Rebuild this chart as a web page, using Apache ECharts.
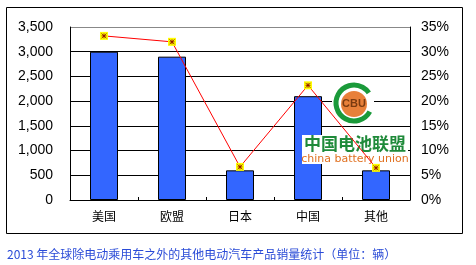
<!DOCTYPE html>
<html><head><meta charset="utf-8">
<script src="https://cdn.jsdelivr.net/npm/echarts@6/dist/echarts.min.js"></script>
<style>html,body{margin:0;padding:0;background:#fff}#c{width:476px;height:265px}</style>
</head><body><div id="c"></div>
<script>
var categories = ['美国', '欧盟', '日本', '中国', '其他'];
var sales = [3000, 2900, 600, 2100, 600];
var share = [33.2, 32.0, 6.7, 23.2, 6.5];
var leftTicks = [0, 3500, 500];
var rightTicks = [0, 35, 5];
var caption = '2013 年全球除电动乘用车之外的其他电动汽车产品销量统计（单位：辆）';

var chart = echarts.init(document.getElementById('c'), null, {renderer: 'canvas'});
var font = 'Liberation Sans, Arial, sans-serif';
chart.setOption({
  animation: false,
  grid: {left: 70, right: 66, top: 27, bottom: 65},
  xAxis: {
    type: 'category', data: categories,
    axisLine: {lineStyle: {color: '#000', width: 1}},
    axisTick: {show: true, inside: true, length: 3, lineStyle: {color: '#000'}},
    axisLabel: {color: '#000', fontSize: 12, margin: 10, fontFamily: 'Noto Sans CJK SC'}
  },
  yAxis: [{
    type: 'value', min: leftTicks[0], max: leftTicks[1], interval: leftTicks[2],
    axisLine: {show: true, lineStyle: {color: '#000'}},
    axisTick: {show: false},
    axisLabel: {color: '#000', fontSize: 14, fontFamily: font, margin: 17,
      formatter: function (v) { return v.toLocaleString('en-US'); }},
    splitLine: {show: true, lineStyle: {color: ['#000','#000','#000','#000','#000','#000','#000','#888'], width: 1}}
  }, {
    type: 'value', min: rightTicks[0], max: rightTicks[1], interval: rightTicks[2],
    position: 'right',
    axisLine: {show: true, lineStyle: {color: '#000'}},
    axisTick: {show: false},
    axisLabel: {color: '#000', fontSize: 14, fontFamily: font, margin: 11, formatter: '{value}%'},
    splitLine: {show: false}
  }],
  graphic: [
    {type: 'rect', shape: {x: 6.5, y: 7.5, width: 456, height: 226}, style: {fill: 'none', stroke: '#000', lineWidth: 1}, z: -1},
    {type: 'text', left: 7, top: 248, style: {text: caption, fill: '#2a4bd7', font: '12px "Noto Sans CJK SC"'}},
    {type: 'rect', shape: {x: 332, y: 81, width: 42, height: 44}, style: {fill: '#fff'}, z: 3},
    {type: 'rect', shape: {x: 302, y: 135, width: 106, height: 29}, style: {fill: '#fff'}, z: 3},
    {type: 'arc', shape: {cx: 354, cy: 103, r: 18, startAngle: 0.5, endAngle: 2*Math.PI - 0.6}, style: {stroke: '#1a9a3a', lineWidth: 5, fill: 'none'}, z: 3},
    {type: 'circle', shape: {cx: 354, cy: 104, r: 13}, style: {fill: '#e8803a'}, z: 3},
    {type: 'text', x: 354, y: 104, style: {text: 'CBU', fill: '#7a3a10', font: 'bold 11px Liberation Sans', align: 'center', verticalAlign: 'middle'}, z: 3},
    {type: 'text', x: 355, y: 144, style: {text: '中国电池联盟', fill: '#1f8a3a', font: 'bold 17px "Noto Sans CJK SC"', align: 'center', verticalAlign: 'middle'}, z: 3},
    {type: 'text', x: 355, y: 159, style: {text: 'china battery union', fill: '#e07020', font: '11px DejaVu Sans', align: 'center', verticalAlign: 'middle'}, z: 3}
  ],
  series: [{
    type: 'bar', data: sales, barWidth: 28, yAxisIndex: 0,
    itemStyle: {color: '#3366ff', borderColor: '#000', borderWidth: 1}, z: 2
  }, {
    type: 'line', data: share, yAxisIndex: 1,
    lineStyle: {color: '#ff0000', width: 1},
    symbol: 'rect', symbolSize: 8,
    itemStyle: {color: '#ffff00', borderWidth: 0}, z: 5
  }, {
    type: 'scatter', data: share, yAxisIndex: 1,
    symbol: 'path://M0,0L10,10M10,0L0,10M5,0L5,10M0,5L10,5', symbolSize: 5,
    itemStyle: {color: 'none', borderColor: '#8b0000', borderWidth: 1}, z: 6
  }]
});
</script></body></html>
